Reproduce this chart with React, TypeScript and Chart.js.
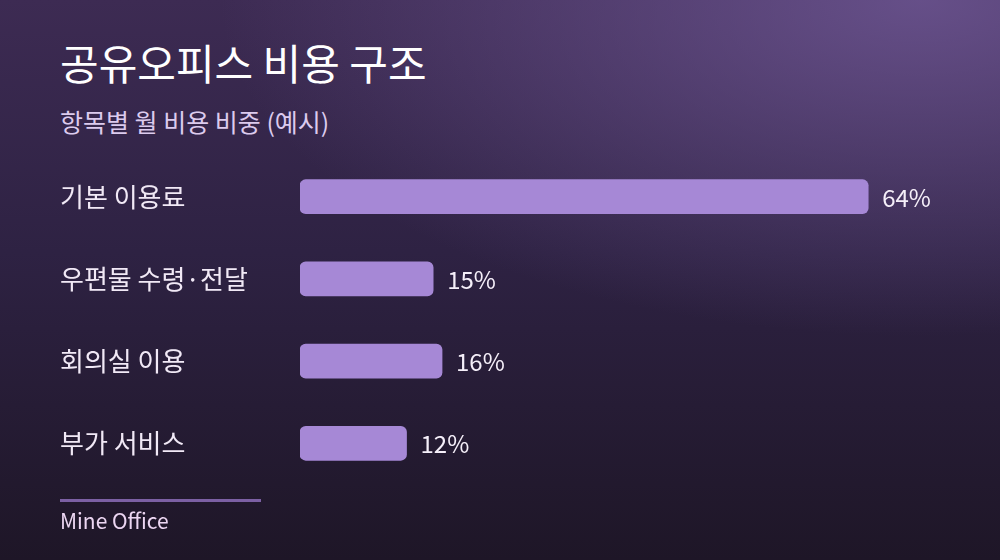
import React, { useEffect, useRef } from "react";
import { Chart, registerables } from "chart.js";

Chart.register(...registerables);

const title = "공유오피스 비용 구조";
const subtitle = "항목별 월 비용 비중 (예시)";
const footer = "Mine Office";
const categories = ["기본 이용료", "우편물 수령·전달", "회의실 이용", "부가 서비스"];
const values = [64, 15, 16, 12];
const valueSuffix = "%";

const FONT = '"Noto Sans CJK KR", "Noto Sans", sans-serif';

const valueLabelPlugin = {
  id: "valueLabels",
  afterDatasetsDraw(chart: any) {
    const { ctx } = chart;
    const meta = chart.getDatasetMeta(0);
    ctx.save();
    ctx.font = `24px ${FONT}`;
    ctx.fillStyle = "#f5eff9";
    ctx.textAlign = "left";
    ctx.textBaseline = "middle";
    meta.data.forEach((bar: any, i: number) => {
      const v = chart.data.datasets[0].data[i];
      ctx.fillText(`${v}${valueSuffix}`, bar.x + 14, bar.y + 1);
    });
    ctx.restore();
  },
};

export default function App() {
  const canvasRef = useRef<HTMLCanvasElement | null>(null);

  useEffect(() => {
    document.body.style.margin = "0";
    const chart = new Chart(canvasRef.current as HTMLCanvasElement, {
      type: "bar",
      data: {
        labels: categories,
        datasets: [
          {
            data: values,
            backgroundColor: "#a688d6",
            borderRadius: 6,
            borderSkipped: false,
            barThickness: 34,
          },
        ],
      },
      options: {
        indexAxis: "y",
        animation: false,
        responsive: false,
        maintainAspectRatio: false,
        devicePixelRatio: 1,
        layout: { padding: { left: 0, right: 3, top: 0, bottom: 0 } },
        plugins: {
          legend: { display: false },
          tooltip: { enabled: false },
        },
        scales: {
          x: {
            display: false,
            min: 0,
            max: 74,
            grid: { display: false },
          },
          y: {
            grid: { display: false },
            border: { display: false },
            ticks: {
              crossAlign: "far",
              color: "#f1e9f6",
              font: { family: FONT, size: 26 },
              padding: 0,
            },
            afterFit: (scale: any) => {
              scale.width = 240;
            },
          },
        },
      },
      plugins: [valueLabelPlugin],
    } as any);
    return () => chart.destroy();
  }, []);

  return (
    <div
      style={{
        position: "absolute",
        left: 0,
        top: 0,
        width: 1000,
        height: 560,
        overflow: "hidden",
        fontFamily: FONT,
        background:
          "radial-gradient(ellipse 70% 60% at 92% 0%, rgba(112,88,150,0.8) 0%, rgba(112,88,150,0) 100%), linear-gradient(180deg, #3d2b53 0%, #2e2243 45%, #1e1627 100%)",
      }}
    >
      <div
        style={{
          position: "absolute",
          left: 60,
          top: 41,
          fontSize: 42,
          lineHeight: "42px",
          color: "#ffffff",
          whiteSpace: "nowrap",
        }}
      >
        {title}
      </div>
      <div
        style={{
          position: "absolute",
          left: 60,
          top: 109,
          fontSize: 25,
          lineHeight: "25px",
          color: "#dccbee",
          whiteSpace: "nowrap",
        }}
      >
        {subtitle}
      </div>
      <canvas
        ref={canvasRef}
        width={900}
        height={360}
        style={{ position: "absolute", left: 60, top: 140, width: 900, height: 360 }}
      />
      <div
        style={{
          position: "absolute",
          left: 60,
          top: 499,
          width: 201,
          height: 3,
          background: "#7c60a4",
        }}
      />
      <div
        style={{
          position: "absolute",
          left: 60,
          top: 510,
          fontSize: 21,
          lineHeight: "21px",
          color: "#ecd6f2",
          whiteSpace: "nowrap",
        }}
      >
        {footer}
      </div>
    </div>
  );
}
